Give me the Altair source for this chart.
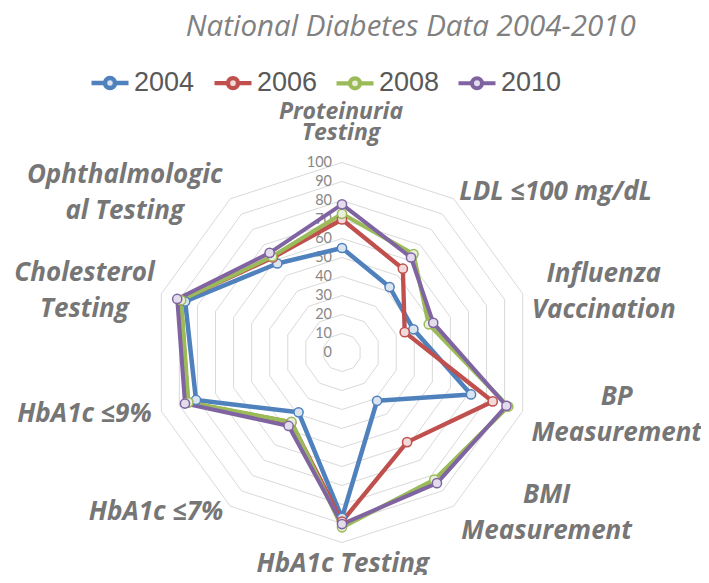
import math
import altair as alt
import pandas as pd

# ---------------- data ----------------
CATEGORIES = [
    "Proteinuria Testing", "LDL ≤100 mg/dL", "Influenza Vaccination",
    "BP Measurement", "BMI Measurement", "HbA1c Testing",
    "HbA1c ≤7%", "HbA1c ≤9%", "Cholesterol Testing", "Ophthalmological Testing",
]
LABEL_TEXT = [
    "Proteinuria\nTesting", "LDL ≤100 mg/dL", "Influenza\nVaccination",
    "BP\nMeasurement", "BMI\nMeasurement", "HbA1c Testing",
    "HbA1c ≤7%", "HbA1c ≤9%", "Cholesterol\nTesting", "Ophthalmologic\nal Testing",
]
TITLE = "National Diabetes Data 2004-2010"
YEARS = ["2004", "2006", "2008", "2010"]
V2004 = [55, 42.6, 39.5, 71.4, 31.4, 87.0, 38.9, 80.8, 86.8, 57.9]
V2006 = [70, 54.5, 34.7, 83.4, 58.3, 89.0, 45.5, 85.3, 89.3, 61.8]
V2008 = [73, 64.0, 48.0, 92.0, 82.7, 92.0, 45.2, 85.0, 89.0, 62.5]
V2010 = [78, 61.8, 50.5, 91.0, 85.0, 90.3, 47.8, 86.9, 91.2, 64.8]
TICKS = [0, 10, 20, 30, 40, 50, 60, 70, 80, 90, 100]

# ---------------- style / layout ----------------
LINE_COLORS = ["#4f81bd", "#c0504d", "#9bbb59", "#8064a2"]
FILL_COLORS = ["#dbe4f1", "#f3dada", "#e8efda", "#e3dcec"]
LINE_WIDTHS = [4.5, 4.0, 2.75, 3.25]
GRID_COLOR = "#d9d9d9"
LABEL_COLOR = "#767676"
LABEL_FONT = "Open Sans"

W, H = 693, 567
CX, CY = 334.0, 344.5       # centre of the radar in plot pixels
PX = 1.9                    # pixels per value unit
XDOM = [-CX / PX, (W - CX) / PX]
YDOM = [-(H - CY) / PX, CY / PX]
N = len(CATEGORIES)

# per-label placement relative to the 100-ring vertex (pixels): align, dx, dy(first baseline), group
LABEL_LAYOUT = [
    ("center", -1.0, -43.8, "small"),
    ("left", 5.6, 1.5, "left"),
    ("center", 81.0, -12.1, "center"),
    ("center", 94.0, -6.2, "center"),
    ("center", 93.0, -2.9, "center"),
    ("center", 0.8, 29.5, "center"),
    ("right", -7.0, 13.8, "right"),
    ("right", -9.6, 10.5, "right"),
    ("center", -76.8, -13.1, "center"),
    ("center", -105.6, -16.1, "center"),
]

# ---------------- tables ----------------
series_rows = []
for y, vals in zip(YEARS, [V2004, V2006, V2008, V2010]):
    for k in range(N + 1):
        series_rows.append({"year": y, "k": k, "category": CATEGORIES[k % N], "value": vals[k % N]})
series_df = pd.DataFrame(series_rows)

grid_rows = []
for lv in TICKS[1:]:
    for k in range(N + 1):
        grid_rows.append({"level": lv, "k": k})
grid_df = pd.DataFrame(grid_rows)

tick_df = pd.DataFrame({"tick": TICKS})

lab_rows = []
for k, (txt, (al, dx, dy, grp)) in enumerate(zip(LABEL_TEXT, LABEL_LAYOUT)):
    a = k * 2 * math.pi / N
    lab_rows.append({
        "label": txt,
        "group": grp,
        "lx": 100 * math.sin(a) + dx / PX,
        "ly": 100 * math.cos(a) - dy / PX,
    })
lab_df = pd.DataFrame(lab_rows)

xs = alt.Scale(domain=XDOM, nice=False, zero=False)
ys = alt.Scale(domain=YDOM, nice=False, zero=False)
X = lambda f: alt.X(f, type="quantitative", scale=xs, axis=None)
Y = lambda f: alt.Y(f, type="quantitative", scale=ys, axis=None)

ang = "datum.k * PI / 5"

grid = alt.Chart(grid_df).transform_calculate(
    gx=f"datum.level * sin({ang})", gy=f"datum.level * cos({ang})"
).mark_line(color=GRID_COLOR, strokeWidth=1).encode(
    x=X("gx"), y=Y("gy"), detail="level:N", order="k:Q"
)

ticks = alt.Chart(tick_df).transform_calculate(tx="0", ty="datum.tick").mark_text(
    align="right", baseline="middle", dx=-10, font="Lato", fontSize=14.5, color="#878787"
).encode(x=X("tx"), y=Y("ty"), text="tick:Q")

base = alt.Chart(series_df).transform_calculate(
    px=f"datum.value * sin({ang})", py=f"datum.value * cos({ang})"
)

lines = base.mark_line(strokeJoin="round").encode(
    x=X("px"), y=Y("py"), order="k:Q", detail="year:O",
    stroke=alt.Stroke("year:O", scale=alt.Scale(domain=YEARS, range=LINE_COLORS), title=None),
    strokeWidth=alt.StrokeWidth("year:O", scale=alt.Scale(domain=YEARS, range=LINE_WIDTHS), title=None),
)

points = base.transform_filter("datum.k < 10").mark_point(
    filled=True, size=85, opacity=1, shape="circle"
).encode(
    x=X("px"), y=Y("py"),
    stroke=alt.Stroke("year:O", scale=alt.Scale(domain=YEARS, range=LINE_COLORS), title=None),
    fill=alt.Fill("year:O", scale=alt.Scale(domain=YEARS, range=FILL_COLORS), title=None),
    strokeWidth=alt.value(1.5),
)


def label_layer(group, align, size, lh):
    return alt.Chart(lab_df).transform_filter(f"datum.group == '{group}'").mark_text(
        align=align, baseline="alphabetic", font=LABEL_FONT, fontSize=size, fontWeight="bold",
        fontStyle="italic", color=LABEL_COLOR, lineBreak="\n", lineHeight=lh
    ).encode(x=X("lx"), y=Y("ly"), text="label:N")


labels = (
    label_layer("small", "center", 23, 21)
    + label_layer("center", "center", 26, 36)
    + label_layer("left", "left", 26, 36)
    + label_layer("right", "right", 26, 36)
)

title = alt.Chart(pd.DataFrame({"t": [TITLE]})).mark_text(
    align="center", baseline="alphabetic", font="Open Sans", fontSize=29.5,
    fontStyle="italic", color="#808080"
).encode(x=alt.value(402.8), y=alt.value(28), text="t:N")

LEGEND_SYMBOL = (
    "M-1,0 L-0.27,0 M0.27,0 L1,0 "
    "M-0.27,0 A0.27,0.27 0 1,1 0.27,0 A0.27,0.27 0 1,1 -0.27,0 Z"
)

chart = alt.layer(grid, ticks, lines, points, labels, title).properties(
    width=W, height=H,
    autosize=alt.AutoSizeParams(type="none"),
    padding=0,
).configure_view(stroke=None).configure_legend(
    orient="none", legendX=81, legendY=54, direction="horizontal", columns=4,
    symbolType=LEGEND_SYMBOL, symbolSize=1369, labelFont="Liberation Sans",
    labelFontSize=27, labelColor="#595959", labelOffset=3, columnPadding=10,
    padding=0, title=None,
)

chart.save("out.html", embed_options={"renderer": "svg", "actions": False})
